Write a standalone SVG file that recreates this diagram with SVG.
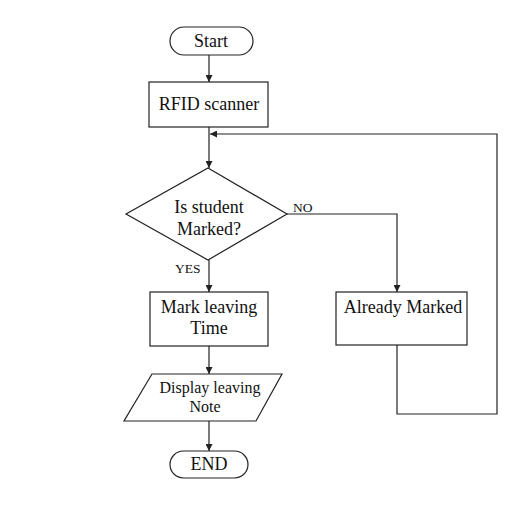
<svg xmlns="http://www.w3.org/2000/svg" width="520" height="510" viewBox="0 0 520 510">
<style>
.s{fill:#fff;stroke:#222;stroke-width:1.2}
.t{font-family:"Liberation Serif","Times New Roman",serif;font-size:18px;fill:#111;text-anchor:middle}
.d{font-size:16px}
.l{font-family:"Liberation Serif","Times New Roman",serif;font-size:13.5px;fill:#111}
.c{fill:none;stroke:#222;stroke-width:1.2}
</style>
<defs>
<marker id="a" viewBox="0 0 10 10" refX="10" refY="5" markerWidth="7" markerHeight="7" markerUnits="userSpaceOnUse" orient="auto">
<path d="M0,0 L10,5 L0,10 z" fill="#222"/>
</marker>
</defs>
<rect width="520" height="510" fill="#fff"/>
<g id="connectors">
<path class="c" d="M209,55 V82" marker-end="url(#a)"/>
<path class="c" d="M209,127 V168" marker-end="url(#a)"/>
<path class="c" d="M397,345 V414 H497 V134 H210" marker-end="url(#a)"/>
<path class="c" d="M287,214 H397 V292" marker-end="url(#a)"/>
<path class="c" d="M209,260 V292" marker-end="url(#a)"/>
<path class="c" d="M209,346 V374" marker-end="url(#a)"/>
<path class="c" d="M209,421 V451" marker-end="url(#a)"/>
<text class="l" x="293" y="212">NO</text>
<text class="l" x="175" y="273">YES</text>
</g>
<g id="start">
<rect class="s" x="170" y="27" width="83" height="28" rx="14"/>
<text class="t" x="211" y="47">Start</text>
</g>
<g id="rfid">
<rect class="s" x="149" y="82" width="119" height="45"/>
<text class="t" x="209" y="110">RFID scanner</text>
</g>
<g id="decision">
<path class="s" d="M208,168 L287,214 L208,260 L126,214 z"/>
<text class="t" x="209" y="213">Is student</text>
<text class="t" x="209" y="235">Marked?</text>
</g>
<g id="already">
<rect class="s" x="336" y="292" width="131" height="53"/>
<text class="t" x="403" y="313">Already Marked</text>
</g>
<g id="mark">
<rect class="s" x="150" y="292" width="118" height="54"/>
<text class="t" x="209" y="313">Mark leaving</text>
<text class="t" x="209" y="334">Time</text>
</g>
<g id="display">
<path class="s" d="M152,374 L282,374 L256,421 L124,421 z"/>
<text class="t d" x="210" y="393">Display leaving</text>
<text class="t d" x="205" y="412">Note</text>
</g>
<g id="end">
<rect class="s" x="170" y="451" width="78" height="27" rx="13.5"/>
<text class="t" x="209" y="470">END</text>
</g>
</svg>
